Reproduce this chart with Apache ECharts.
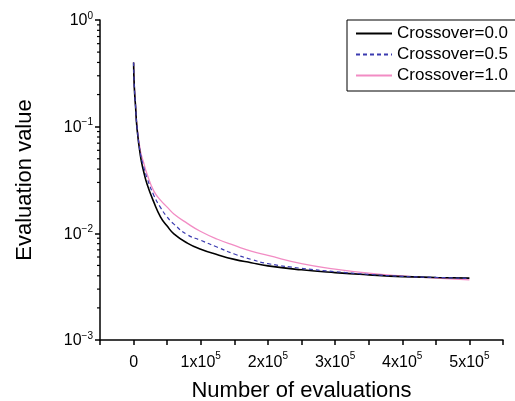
<!DOCTYPE html>
<html>
<head>
<meta charset="utf-8">
<script src="https://cdn.jsdelivr.net/npm/echarts@6/dist/echarts.min.js"></script>
<style>
  html, body { margin: 0; padding: 0; background: #fff; }
  #chart { width: 515px; height: 401px; }
</style>
</head>
<body>
<div id="chart"></div>
<script>
// number of evaluations (x) and the three runs
const evaluations = [0, 1000, 3000, 5000, 10000, 15000, 20000, 30000, 40000, 50000, 60000,
  80000, 100000, 125000, 150000, 175000, 200000, 250000, 300000, 350000, 400000, 450000, 500000];
const cross00 = [0.40, 0.24, 0.152, 0.098, 0.054, 0.038, 0.029, 0.0197, 0.0143, 0.0117, 0.0099,
  0.0081, 0.0071, 0.0063, 0.0057, 0.0053, 0.00495, 0.00455, 0.00428, 0.00408, 0.00393, 0.00386, 0.00380];
const cross05 = [0.40, 0.245, 0.154, 0.101, 0.057, 0.042, 0.033, 0.0228, 0.0175, 0.0142, 0.0122,
  0.0097, 0.0086, 0.0074, 0.0064, 0.0057, 0.0052, 0.0047, 0.00437, 0.00413, 0.00395, 0.00386, 0.00378];
const cross10 = [0.40, 0.25, 0.157, 0.104, 0.060, 0.046, 0.036, 0.0250, 0.0205, 0.0176, 0.0152,
  0.0124, 0.0104, 0.0088, 0.0077, 0.0068, 0.0062, 0.0052, 0.00462, 0.00423, 0.00398, 0.00380, 0.00366];
const seriesNames = ["Crossover=0.0", "Crossover=0.5", "Crossover=1.0"];

// minor ticks of the log axis: 2..9 inside each decade
const decades = [0.001, 0.01, 0.1];
const minorSteps = [2, 3, 4, 5, 6, 7, 8, 9];
const minorTicks = [];
decades.forEach(d => minorSteps.forEach(m => minorTicks.push(+(d * m).toPrecision(3))));

const xMin = -50000;

const pair = ys => evaluations.map((x, i) => [x, ys[i]]);

const chart = echarts.init(document.getElementById("chart"));

const option = {
  animation: false,
  backgroundColor: "#fff",
  textStyle: { fontFamily: "Liberation Sans" },
  grid: { left: 100, right: 12, top: 20, bottom: 61, outerBoundsMode: "none" },
  legend: {
    orient: "vertical",
    left: 347,
    top: 20,
    padding: [5, 40, 7, 8],
    itemGap: 4,
    itemWidth: 36,
    itemHeight: 14,
    borderColor: "#000",
    borderWidth: 1,
    borderRadius: 0,
    itemStyle: { opacity: 0 },
    textStyle: { fontSize: 17, color: "#000" },
    data: seriesNames
  },
  xAxis: {
    type: "value",
    min: xMin,
    max: 550000,
    interval: 50000,
    name: "Number of evaluations",
    nameLocation: "middle",
    nameGap: 40,
    nameTextStyle: { fontSize: 22, color: "#000" },
    axisLine: { onZero: false, lineStyle: { color: "#000", width: 1.5 } },
    axisTick: { length: 5, lineStyle: { color: "#000", width: 1.5 } },
    splitLine: { show: false },
    axisLabel: {
      margin: 11,
      color: "#000",
      formatter: v => {
        if (v === 0) return "{b|0}";
        if (v > 0 && v % 100000 === 0) return "{b|" + (v / 100000) + "x10}{s|5}";
        return "";
      },
      rich: {
        b: { fontSize: 16, color: "#000", lineHeight: 20, verticalAlign: "bottom" },
        s: { fontSize: 10, color: "#000", lineHeight: 20, verticalAlign: "top" }
      }
    }
  },
  yAxis: {
    type: "log",
    logBase: 10,
    min: 0.001,
    max: 1,
    name: "Evaluation value",
    nameLocation: "middle",
    nameGap: 64,
    nameRotate: 90,
    nameTextStyle: { fontSize: 22, color: "#000" },
    axisLine: { show: true, onZero: false, lineStyle: { color: "#000", width: 1.5 } },
    axisTick: { show: true, length: 5, lineStyle: { color: "#000", width: 1.5 } },
    splitLine: { show: false },
    axisLabel: {
      margin: 7,
      color: "#000",
      formatter: v => {
        const e = Math.round(Math.log10(v));
        return "{b|10}{s|" + (e === 0 ? "0" : "\u2212" + (-e)) + "}";
      },
      rich: {
        b: { fontSize: 16, color: "#000", lineHeight: 18, verticalAlign: "bottom" },
        s: { fontSize: 10, color: "#000", lineHeight: 18, verticalAlign: "top" }
      }
    }
  },
  series: [
    {
      name: seriesNames[0], type: "line", symbol: "none", smooth: 0.5,
      data: pair(cross00),
      lineStyle: { color: "#000", width: 1.6 },
      itemStyle: { color: "#000" },
      z: 3
    },
    {
      name: seriesNames[1], type: "line", symbol: "none", smooth: 0.5,
      data: pair(cross05),
      lineStyle: { color: "#3b3bb0", width: 1.2, type: [4, 3] },
      itemStyle: { color: "#3b3bb0" },
      z: 4
    },
    {
      name: seriesNames[2], type: "line", symbol: "none", smooth: 0.5,
      data: pair(cross10),
      lineStyle: { color: "#f28cc4", width: 1.3 },
      itemStyle: { color: "#f28cc4" },
      z: 2
    },
    {
      // minor ticks on the y axis
      type: "custom",
      silent: true,
      clip: false,
      data: minorTicks.map(v => [xMin, v]),
      renderItem: (params, api) => {
        const p = api.coord([api.value(0), api.value(1)]);
        return {
          type: "line",
          shape: { x1: p[0] - 3, y1: p[1], x2: p[0], y2: p[1] },
          style: { stroke: "#000", lineWidth: 1.2 }
        };
      }
    }
  ]
};

option && chart.setOption(option);
</script>
</body>
</html>
